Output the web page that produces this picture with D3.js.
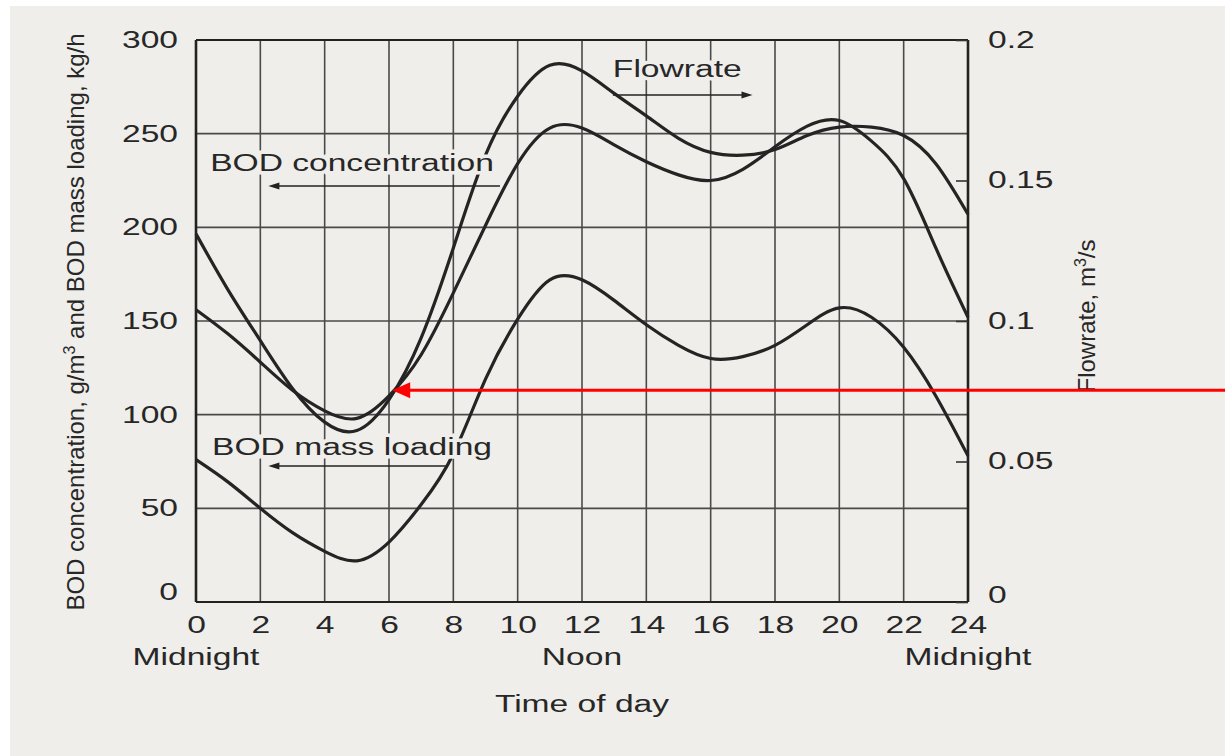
<!DOCTYPE html>
<html>
<head>
<meta charset="utf-8">
<script src="https://cdn.jsdelivr.net/npm/d3@7"></script>
<style>
  body { margin: 0; background: #fff; }
  svg { display: block; font-family: "Liberation Sans", Arial, sans-serif; }
</style>
</head>
<body>
<script>
// hour of day (0 = midnight)
const hours = [0, 1, 2, 3, 4, 5, 6, 7, 8, 9, 10, 11, 12, 13, 14, 15, 16, 17, 18, 19, 20, 21, 22, 23, 24];
// flowrate, m3/s (right axis)
const flowrate = [0.131, 0.111, 0.093, 0.076, 0.064, 0.061, 0.072, 0.094, 0.126, 0.159, 0.180, 0.191, 0.189, 0.181, 0.173, 0.165, 0.160, 0.159, 0.161, 0.166, 0.169, 0.169, 0.166, 0.156, 0.138];
// BOD concentration, g/m3 (left axis)
const bodConc = [156, 143, 128, 113, 102, 98, 110, 132, 165, 201, 234, 253, 253, 244, 235, 228, 225, 231, 243, 254, 257, 246, 226, 189, 152];
// BOD mass loading, kg/h (left axis)
const bodLoad = [76, 64, 50, 37, 27, 22, 32, 52, 79, 119, 151, 172, 172, 161, 148, 137, 130, 131, 137, 148, 157, 152, 136, 110, 78];

const hourTicks = [0, 2, 4, 6, 8, 10, 12, 14, 16, 18, 20, 22, 24];
const leftTicks = [0, 50, 100, 150, 200, 250, 300];
const rightTicks = [0, 0.05, 0.1, 0.15, 0.2];
const rightTickLabels = ['0', '0.05', '0.1', '0.15', '0.2'];
const timeNames = [{h: 0, name: 'Midnight'}, {h: 12, name: 'Noon'}, {h: 24, name: 'Midnight'}];

const width = 1225, height = 756;
const margin = {top: 40, right: 257, bottom: 154, left: 196};
const bg = '#efeeea';
const ink = '#242424';
const wide = 1.46; // the scanned labels use a wide typeface

const x = d3.scaleLinear().domain([0, 24]).range([margin.left, width - margin.right]);
const yL = d3.scaleLinear().domain([0, 300]).range([height - margin.bottom, margin.top]);
const yR = d3.scaleLinear().domain([0, 0.2]).range([height - margin.bottom, margin.top]);

const svg = d3.select('body').append('svg')
  .attr('width', width).attr('height', height)
  .attr('viewBox', [0, 0, width, height]);

svg.append('rect').attr('width', width).attr('height', height).attr('fill', '#fff');
svg.append('rect').attr('x', 10).attr('y', 6).attr('width', width - 10).attr('height', height - 6).attr('fill', bg);

// grid
const grid = svg.append('g').attr('stroke', '#4a4a4a').attr('stroke-width', 1.6);
grid.selectAll('line.h')
  .data(leftTicks.slice(1, -1))
  .join('line')
    .attr('x1', x(0)).attr('x2', x(24))
    .attr('y1', d => yL(d)).attr('y2', d => yL(d));
grid.selectAll('line.v')
  .data(hourTicks.slice(1, -1))
  .join('line').attr('class', 'v')
    .attr('x1', d => x(d)).attr('x2', d => x(d))
    .attr('y1', yL(0)).attr('y2', yL(300));

// frame
const frame = svg.append('g').attr('stroke', '#222').attr('fill', 'none');
frame.append('line').attr('x1', x(0)).attr('x2', x(24)).attr('y1', yL(300)).attr('y2', yL(300)).attr('stroke-width', 2);
frame.append('line').attr('x1', x(0)).attr('x2', x(24)).attr('y1', yL(0)).attr('y2', yL(0)).attr('stroke-width', 2);
frame.append('line').attr('x1', x(0)).attr('x2', x(0)).attr('y1', yL(0)).attr('y2', yL(300)).attr('stroke-width', 2.6);
frame.append('line').attr('x1', x(24)).attr('x2', x(24)).attr('y1', yL(0)).attr('y2', yL(300)).attr('stroke-width', 2.6);

// axes
const labelFont = g => g.selectAll('text')
  .attr('font-size', 23).attr('fill', '#272727')
  .attr('font-family', '"Liberation Sans", Arial, sans-serif');

const leftAxis = svg.append('g')
  .attr('transform', `translate(${x(0)},0)`)
  .call(d3.axisLeft(yL).tickValues(leftTicks).tickSize(0).tickPadding(18))
  .call(g => g.select('.domain').remove())
  .call(labelFont);
leftAxis.selectAll('text').filter(d => d === 0).attr('y', -10);

const rightAxis = svg.append('g')
  .attr('transform', `translate(${x(24)},0)`)
  .call(d3.axisRight(yR).tickValues(rightTicks).tickSize(-12).tickPadding(32)
    .tickFormat((d, i) => rightTickLabels[i]))
  .call(g => g.select('.domain').remove())
  .call(g => g.selectAll('line').attr('stroke', '#333').attr('stroke-width', 1.6))
  .call(labelFont);
rightAxis.selectAll('text').attr('x', 20).filter(d => d === 0).attr('y', -7);

svg.append('g')
  .attr('transform', `translate(0,${yL(0)})`)
  .call(d3.axisBottom(x).tickValues(hourTicks).tickSize(0).tickPadding(15))
  .call(g => g.select('.domain').remove())
  .call(labelFont);

svg.append('g')
  .selectAll('text')
  .data(timeNames)
  .join('text')
    .attr('class', 'wide')
    .attr('x', d => x(d.h))
    .attr('y', yL(0) + 63)
    .attr('text-anchor', 'middle')
    .attr('font-size', 23).attr('fill', '#272727')
    .text(d => d.name);

svg.append('text')
  .attr('class', 'wide')
  .attr('x', x(12))
  .attr('y', yL(0) + 110)
  .attr('text-anchor', 'middle')
  .attr('font-size', 23).attr('fill', '#272727')
  .text('Time of day');

// axis titles
const leftTitle = svg.append('text')
  .attr('transform', `translate(84,${(yL(0) + yL(300)) / 2 + 1}) rotate(-90)`)
  .attr('text-anchor', 'middle')
  .attr('font-size', 24).attr('fill', '#272727');
leftTitle.append('tspan').text('BOD concentration, g/m');
leftTitle.append('tspan').attr('dy', -9).attr('font-size', 16).text('3');
leftTitle.append('tspan').attr('dy', 9).text(' and BOD mass loading, kg/h');

const rightTitle = svg.append('text')
  .attr('transform', `translate(1095,${(yL(0) + yL(300)) / 2 - 5}) rotate(-90)`)
  .attr('text-anchor', 'middle')
  .attr('font-size', 24).attr('fill', '#272727');
rightTitle.append('tspan').text('Flowrate, m');
rightTitle.append('tspan').attr('dy', -9).attr('font-size', 16).text('3');
rightTitle.append('tspan').attr('dy', 9).text('/s');

// curves
const lineL = d3.line().x((d, i) => x(hours[i])).y(d => yL(d)).curve(d3.curveNatural);
const lineR = d3.line().x((d, i) => x(hours[i])).y(d => yR(d)).curve(d3.curveNatural);

const curves = svg.append('g').attr('fill', 'none').attr('stroke', ink).attr('stroke-width', 3.2)
  .attr('stroke-linejoin', 'round');
curves.append('path').attr('d', lineR(flowrate));
curves.append('path').attr('d', lineL(bodConc));
curves.append('path').attr('d', lineL(bodLoad));

// in-plot labels with arrows
const notes = [
  {text: 'BOD concentration', h: 0.44, v: 230, from: 9.45, to: 2.25, av: 222, dir: -1},
  {text: 'Flowrate', h: 12.96, v: 280, from: 12.96, to: 17.3, av: 270.6, dir: 1},
  {text: 'BOD mass loading', h: 0.5, v: 78.5, from: 7.8, to: 2.25, av: 72.6, dir: -1}
];

const noteG = svg.append('g');
noteG.selectAll('text')
  .data(notes)
  .join('text')
    .attr('class', 'wide')
    .attr('x', d => x(d.h))
    .attr('y', d => yL(d.v))
    .attr('font-size', 23).attr('fill', '#272727')
    .attr('stroke', bg).attr('stroke-width', 7).attr('paint-order', 'stroke')
    .text(d => d.text);

noteG.selectAll('line')
  .data(notes)
  .join('line')
    .attr('x1', d => x(d.from)).attr('x2', d => x(d.to) - d.dir * 8)
    .attr('y1', d => yL(d.av)).attr('y2', d => yL(d.av))
    .attr('stroke', '#222').attr('stroke-width', 1.5);

noteG.selectAll('path')
  .data(notes)
  .join('path')
    .attr('d', d => {
      const tx = x(d.to), ty = yL(d.av);
      return `M${tx},${ty}L${tx - d.dir * 11},${ty - 3.5}L${tx - d.dir * 11},${ty + 3.5}Z`;
    })
    .attr('fill', '#222');

// stretch labels to the wide face of the scan
svg.selectAll('.tick text, .wide').each(function() {
  const w = this.getComputedTextLength();
  d3.select(this).attr('textLength', w * wide).attr('lengthAdjust', 'spacingAndGlyphs');
});

// red marker arrow pointing at the crossing of flowrate and concentration
const crossHour = 6.1, crossValue = 113;
const tipX = x(crossHour), tipY = yL(crossValue);
svg.append('line')
  .attr('x1', width).attr('x2', tipX + 14)
  .attr('y1', tipY).attr('y2', tipY)
  .attr('stroke', '#f00').attr('stroke-width', 3);
svg.append('path')
  .attr('d', `M${tipX},${tipY}L${tipX + 18},${tipY - 8}L${tipX + 18},${tipY + 8}Z`)
  .attr('fill', '#f00');
</script>
</body>
</html>
